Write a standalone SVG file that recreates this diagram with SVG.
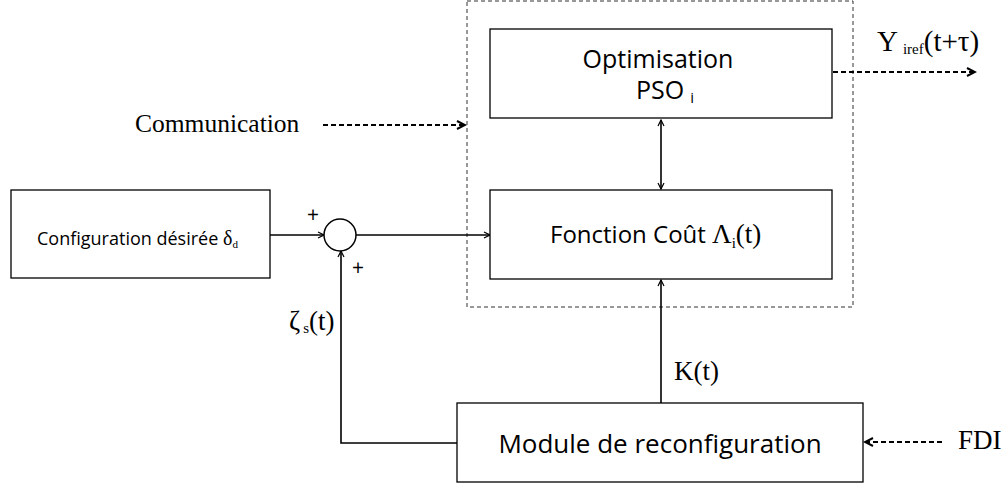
<svg xmlns="http://www.w3.org/2000/svg" width="1008" height="488" viewBox="0 0 1008 488">
<style>
.box{fill:#fff;stroke:#000;stroke-width:1.3}
.ln{fill:none;stroke:#000;stroke-width:1.6}
.dl{fill:none;stroke:#000;stroke-width:2;stroke-dasharray:5 3}
.sans{font-family:"Open Sans","Noto Sans",sans-serif;fill:#000}
.serif{font-family:"Liberation Serif","Times New Roman",serif;fill:#000}
</style>
<defs>
<marker id="ah" markerWidth="8" markerHeight="8" refX="7" refY="4" orient="auto" markerUnits="userSpaceOnUse">
<path d="M1,1 L7,4 L1,7" fill="none" stroke="#000" stroke-width="1.2"/>
</marker>
<marker id="ahs" markerWidth="8" markerHeight="8" refX="7" refY="4" orient="auto-start-reverse" markerUnits="userSpaceOnUse">
<path d="M1,1 L7,4 L1,7" fill="none" stroke="#000" stroke-width="1.2"/>
</marker>
<marker id="ahd" markerWidth="12" markerHeight="12" refX="10" refY="6" orient="auto" markerUnits="userSpaceOnUse">
<path d="M2,2 L10,6 L2,10" fill="none" stroke="#000" stroke-width="2"/>
</marker>
</defs>
<g id="group-box">
<rect x="467" y="1" width="386" height="306" fill="none" stroke="#333" stroke-width="1" stroke-dasharray="4 3"/>
</g>
<g id="connectors">
<line class="ln" x1="270" y1="235" x2="324" y2="235" marker-end="url(#ah)"/>
<line class="ln" x1="356" y1="235" x2="490" y2="235" marker-end="url(#ah)"/>
<line class="ln" x1="661" y1="120" x2="661" y2="189" marker-start="url(#ahs)" marker-end="url(#ahs)"/>
<line class="ln" x1="661" y1="403" x2="661" y2="280" marker-end="url(#ah)"/>
<polyline class="ln" points="457,443 341,443 341,251" marker-end="url(#ah)"/>
<line class="dl" x1="323" y1="125" x2="465" y2="125" marker-end="url(#ahd)"/>
<line class="dl" x1="833" y1="72" x2="975" y2="72" marker-end="url(#ahd)"/>
<line class="dl" x1="942" y1="442" x2="865" y2="442" marker-end="url(#ahd)"/>
</g>
<g id="optimisation">
<rect class="box" x="490" y="29" width="342" height="89"/>
<text class="sans" x="658" y="68" font-size="25" text-anchor="middle">Optimisation</text>
<text class="sans" x="636" y="99" font-size="25">PSO<tspan font-size="15" dx="6" dy="4">i</tspan></text>
</g>
<g id="fonction-cout">
<rect class="box" x="490" y="190" width="342" height="89"/>
<text x="550" y="243" font-size="24"><tspan class="sans">Fonction Coût </tspan><tspan class="serif" font-size="27">Λ</tspan><tspan class="serif" font-size="15" dy="5">i</tspan><tspan class="serif" font-size="27" dy="-5">(t)</tspan></text>
</g>
<g id="configuration">
<rect class="box" x="11" y="190" width="259" height="88"/>
<text x="37" y="245" font-size="18"><tspan class="sans">Configuration désirée </tspan><tspan class="serif" font-size="20">δ</tspan><tspan class="serif" font-size="11" dy="3">d</tspan></text>
</g>
<g id="sommateur">
<circle cx="340" cy="235" r="16" fill="#fff" stroke="#000" stroke-width="1.5"/>
<text class="sans" x="313" y="222" font-size="21" text-anchor="middle">+</text>
<text class="sans" x="358" y="275" font-size="21" text-anchor="middle">+</text>
</g>
<g id="module">
<rect class="box" x="457" y="403" width="406" height="79"/>
<text class="sans" x="660" y="453" font-size="26" text-anchor="middle">Module de reconfiguration</text>
</g>
<g id="labels">
<text class="serif" x="135" y="132" font-size="25.5">Communication</text>
<text class="serif" x="877" y="51" font-size="29">Y<tspan font-size="15" dx="5" dy="3">iref</tspan><tspan dy="-3">(t+τ)</tspan></text>
<text class="serif" x="674" y="380" font-size="27">K(t)</text>
<text class="serif" x="289" y="330" font-size="27">ζ<tspan font-size="15" dx="3" dy="3">s</tspan><tspan dy="-3">(t)</tspan></text>
<text class="serif" x="958" y="449" font-size="27">FDI</text>
</g>
</svg>
